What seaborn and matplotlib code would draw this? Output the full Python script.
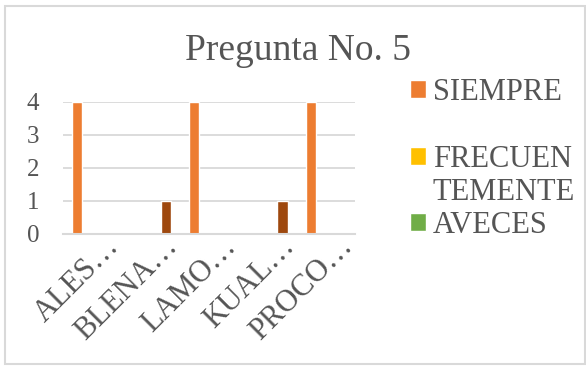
import matplotlib
matplotlib.use("Agg")
import matplotlib.pyplot as plt
from matplotlib.patches import Patch, Rectangle
from matplotlib.transforms import ScaledTranslation
import pandas as pd
import seaborn as sns

# Data
categorias = ["ALES…", "BLENA…", "LAMO…", "KUAL…", "PROCO…"]
series = ["SIEMPRE", "FRECUENTEMENTE", "AVECES", "NUNCA"]
siempre = [4, 0, 4, 0, 4]
frecuentemente = [0, 0, 0, 0, 0]
aveces = [0, 0, 0, 0, 0]
nunca = [0, 1, 0, 1, 0]
colores = ["#ED7D31", "#FFC000", "#70AD47", "#9E480E"]
yticks = [0, 1, 2, 3, 4]

rows = []
for nombre, valores in zip(series, [siempre, frecuentemente, aveces, nunca]):
    for cat, v in zip(categorias, valores):
        rows.append({"categoria": cat, "valor": v, "serie": nombre})
df = pd.DataFrame(rows)

sns.set_style("white")
plt.rcParams["font.family"] = "serif"
plt.rcParams["font.serif"] = ["Liberation Serif", "DejaVu Serif"]
FONT = ["Liberation Serif", "DejaVu Serif"]
TXT = "#555555"
GRID = "#D9D9D9"

W, H = 586, 367
fig = plt.figure(figsize=(W / 100, H / 100), dpi=100)

# plot area in pixel coordinates
x0, x1 = 63, 355
y0, y1 = 234, 101.7
ax = fig.add_axes([x0 / W, 1 - y0 / H, (x1 - x0) / W, (y0 - y1) / H])

sns.barplot(data=df, x="categoria", y="valor", hue="serie",
            hue_order=series, order=categorias, palette=colores,
            width=0.69, saturation=1, legend=False, ax=ax)

ax.set_ylim(0, 4)
ax.set_xlim(-0.5, len(categorias) - 0.5)
ax.set_yticks(yticks)
ax.set_xlabel("")
ax.set_ylabel("")
ax.yaxis.grid(True, color=GRID, linewidth=1.3)
ax.set_axisbelow(True)
for s in ["top", "right", "left"]:
    ax.spines[s].set_visible(False)
ax.spines["bottom"].set_color(GRID)
ax.spines["bottom"].set_linewidth(1.5)
ax.tick_params(axis="both", length=0, colors=TXT)
ax.tick_params(axis="y", pad=17, labelsize=18)
ax.tick_params(axis="x", pad=6, labelsize=22)
offset = ScaledTranslation(0.23, 0, fig.dpi_scale_trans)
for lab in ax.get_xticklabels() + ax.get_yticklabels():
    lab.set_family(FONT)
for lab in ax.get_xticklabels():
    lab.set_rotation(45)
    lab.set_ha("right")
    lab.set_va("center")
    lab.set_rotation_mode("anchor")
    lab.set_transform(lab.get_transform() + offset)

# title
fig.text(298 / W, 1 - 60 / H, "Pregunta No. 5", ha="center", va="baseline",
         fontsize=27, color=TXT, family=FONT)

# legend
blank = Patch(facecolor="none", edgecolor="none")
handles = [Patch(facecolor=colores[0]), blank, Patch(facecolor=colores[1]),
           blank, Patch(facecolor=colores[2])]
labels = ["SIEMPRE", "", "FRECUEN", "TEMENTE", "AVECES"]
leg = fig.legend(handles, labels, loc="upper left",
                 bbox_to_anchor=(410 / W, 1 - 78 / H),
                 frameon=False, prop={"family": FONT, "size": 22},
                 labelcolor=TXT,
                 handlelength=0.52, handleheight=0.52, handletextpad=0.23,
                 labelspacing=0.14, borderpad=0, borderaxespad=0)

# chart border
fig.patches.append(Rectangle((5 / W, 1 - 364 / H), 580 / W, 358 / H,
                             transform=fig.transFigure, fill=False,
                             edgecolor=GRID, linewidth=1.5))

fig.savefig("out.png", dpi=100)
